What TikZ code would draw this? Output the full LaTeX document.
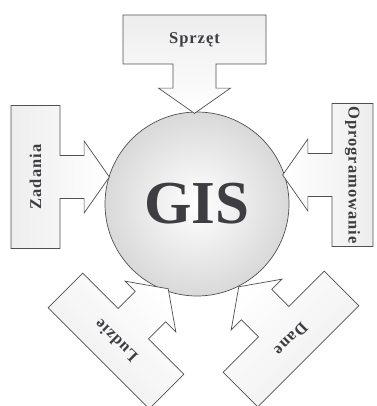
\documentclass[tikz,border=0pt]{standalone}
\usepackage{fontspec}
\setmainfont{Liberation Serif}
\newfontfamily\lblfont[LetterSpace=6]{Liberation Serif}
\usetikzlibrary{shapes.arrows}
\definecolor{ink}{RGB}{62,62,66}
\definecolor{rim}{RGB}{80,80,80}
\begin{document}
\begin{tikzpicture}[x=1pt,y=-1pt,line width=0.7pt,
    arr/.style={arrow box,draw=rim,top color=gray!14,bottom color=white,shading angle=#1,rotate=#1,
      minimum width=143pt,minimum height=49pt,inner sep=0pt,
      arrow box shaft width=43pt,arrow box head extend=14.5pt,arrow box tip angle=110,
      arrow box head indent=0pt,arrow box arrows={south:49pt},
      font=\lblfont\bfseries\fontsize{16.5}{16.5}\selectfont,text=ink}]
  \useasboundingbox(0,0)rectangle(376,406);
  \node[circle,draw=rim,inner color=white,outer color=gray!30,minimum size=184pt,
    font=\bfseries\fontsize{61}{61}\selectfont,text=ink](gis)at(197,204){GIS};
  \node[arr=0](sprzet)at(194.5,39.5){Sprzęt};
  \node[arr=90](zadania)at(35.5,177){Zadania};
  \node[arr=-90,minimum height=41pt](oprog)at(352.5,175){Oprogramowanie};
  \node[arr=135](ludzie)at(116,341){Ludzie};
  \node[arr=225](dane)at(291,339){Dane};
\end{tikzpicture}
\end{document}
